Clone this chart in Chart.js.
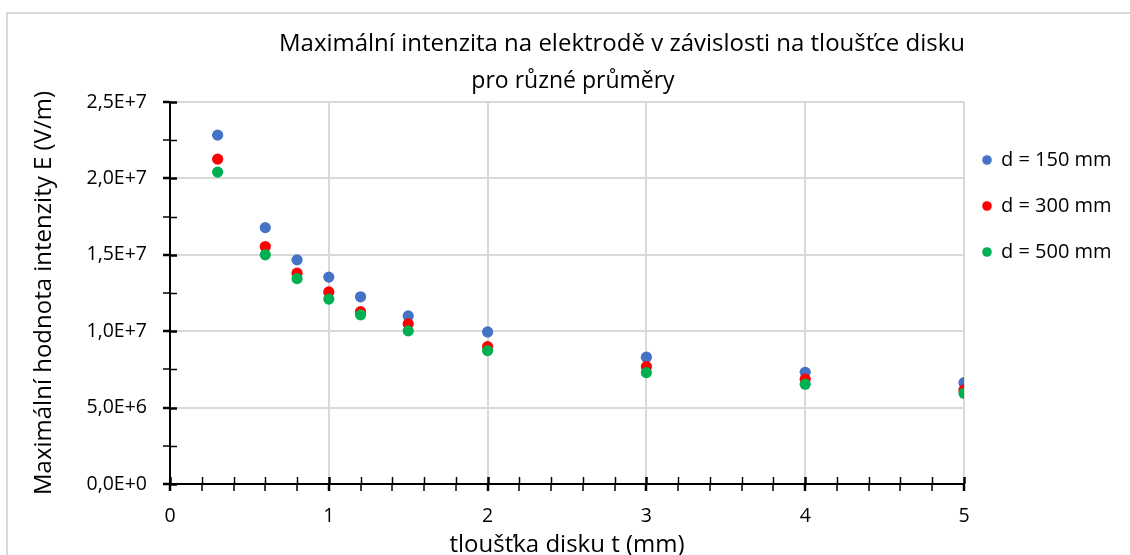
<!DOCTYPE html>
<html>
<head>
<meta charset="utf-8">
<script src="https://cdn.jsdelivr.net/npm/chart.js"></script>
<style>
  html, body { margin: 0; padding: 0; background: #fff; overflow: hidden; }
  #wrap { position: relative; width: 1130px; height: 555px; }
  #frame { position: absolute; left: 6px; top: 12px; width: 1140px; height: 560px;
           border: 2px solid #d9d9d9; pointer-events: none; }
</style>
</head>
<body>
<div id="wrap">
  <canvas id="chart"></canvas>
  <div id="frame"></div>
</div>
<script>
// tloušťka disku t (mm)
const thickness = [0.3, 0.6, 0.8, 1.0, 1.2, 1.5, 2, 3, 4, 5];

// maximální intenzita E (V/m) pro jednotlivé průměry
const e150 = [2.283e7, 1.678e7, 1.467e7, 1.354e7, 1.225e7, 1.100e7, 9.95e6, 8.30e6, 7.31e6, 6.63e6];
const e300 = [2.126e7, 1.554e7, 1.380e7, 1.257e7, 1.128e7, 1.048e7, 8.99e6, 7.68e6, 6.86e6, 6.16e6];
const e500 = [2.041e7, 1.500e7, 1.344e7, 1.210e7, 1.107e7, 1.002e7, 8.73e6, 7.29e6, 6.53e6, 5.94e6];

const seriesLabels = ['d = 150 mm', 'd = 300 mm', 'd = 500 mm'];
const seriesColors = ['#4472c4', '#ff0000', '#00b050'];

const xTickValues = [0, 1, 2, 3, 4, 5];
const xTickLabels = ['0', '1', '2', '3', '4', '5'];
const yTickValues = [0, 5e6, 1e7, 1.5e7, 2e7, 2.5e7];
const yTickLabels = ['0,0E+0', '5,0E+6', '1,0E+7', '1,5E+7', '2,0E+7', '2,5E+7'];

const FONT = '"Open Sans", "Noto Sans", sans-serif';
const GRID = '#d9d9d9';

const toPoints = arr => arr.map((v, i) => ({ x: thickness[i], y: v }));
const isMajorX = v => xTickValues.includes(v);
const isMajorY = v => yTickValues.includes(v);

// ticks in Excel style cross the axis, Chart.js only draws the outer half
const crossTicks = {
    id: 'crossTicks',
    beforeDatasetsDraw(chart) {
        const { ctx, chartArea, scales: { x, y } } = chart;
        ctx.save();
        ctx.strokeStyle = '#000';
        x.ticks.forEach(t => {
            const px = Math.round(x.getPixelForValue(t.value)) + 0.5;
            ctx.lineWidth = isMajorX(t.value) ? 2.5 : 1.5;
            ctx.beginPath();
            ctx.moveTo(px, chartArea.bottom);
            ctx.lineTo(px, chartArea.bottom - 7);
            ctx.stroke();
        });
        y.ticks.forEach(t => {
            const py = Math.round(y.getPixelForValue(t.value)) + 0.5;
            ctx.lineWidth = isMajorY(t.value) ? 2.5 : 1.5;
            ctx.beginPath();
            ctx.moveTo(chartArea.left, py);
            ctx.lineTo(chartArea.left + 7, py);
            ctx.stroke();
        });
        ctx.restore();
    },
};

// title, subtitle and the legend sit where Excel put them
const titlesAndLegend = {
    id: 'titlesAndLegend',
    afterDraw(chart) {
        const { ctx } = chart;
        ctx.save();
        ctx.fillStyle = '#000';
        ctx.textAlign = 'center';
        ctx.textBaseline = 'middle';
        ctx.font = `24px ${FONT}`;
        ctx.fillText('Maximální intenzita na elektrodě v závislosti na tloušťce disku', 622, 44);
        ctx.font = `23px ${FONT}`;
        ctx.fillText('pro různé průměry', 573, 81);

        ctx.textAlign = 'left';
        ctx.font = `20px ${FONT}`;
        seriesLabels.forEach((label, i) => {
            const cy = 160 + i * 46;
            ctx.fillStyle = seriesColors[i];
            ctx.beginPath();
            ctx.arc(987, cy, 4.8, 0, Math.PI * 2);
            ctx.fill();
            ctx.fillStyle = '#000';
            ctx.fillText(label, 1001, cy);
        });
        ctx.restore();
    },
};

new Chart(document.getElementById('chart'), {
    type: 'scatter',
    data: {
        datasets: seriesLabels.map((label, i) => ({
            label,
            data: toPoints([e150, e300, e500][i]),
            backgroundColor: seriesColors[i],
            borderColor: seriesColors[i],
            borderWidth: 0,
            pointRadius: 5.6,
            pointHoverRadius: 5.6,
            order: 3 - i,
        })),
    },
    options: {
        responsive: true,
        maintainAspectRatio: false,
        animation: false,
        layout: { padding: { top: 102, right: 166, left: 0, bottom: 0 } },
        plugins: {
            legend: { display: false },
            tooltip: { enabled: false },
        },
        scales: {
            x: {
                type: 'linear',
                min: 0,
                max: 5,
                afterFit: s => { s.height = 71; },
                ticks: {
                    stepSize: 0.2,
                    autoSkip: false,
                    maxRotation: 0,
                    padding: 14,
                    color: '#000',
                    font: { family: FONT, size: 19.5 },
                    callback: v => {
                        const i = xTickValues.indexOf(v);
                        return i >= 0 ? xTickLabels[i] : '';
                    },
                },
                grid: {
                    color: c => isMajorX(c.tick.value) ? GRID : 'rgba(0,0,0,0)',
                    lineWidth: 2,
                    tickColor: '#000',
                    tickLength: 7,
                    tickWidth: c => isMajorX(c.tick.value) ? 2.5 : 1.5,
                },
                border: { color: '#000', width: 2 },
                title: {
                    display: true,
                    text: 'tloušťka disku t (mm)',
                    color: '#000',
                    font: { family: FONT, size: 24, lineHeight: 1 },
                    padding: { top: 0, bottom: -2 },
                },
            },
            y: {
                min: 0,
                max: 2.5e7,
                afterFit: s => { s.width = 170; },
                ticks: {
                    stepSize: 2.5e6,
                    autoSkip: false,
                    padding: 16,
                    color: '#000',
                    font: { family: FONT, size: 19.5 },
                    callback: v => {
                        const i = yTickValues.indexOf(v);
                        return i >= 0 ? yTickLabels[i] : '';
                    },
                },
                grid: {
                    color: c => isMajorY(c.tick.value) ? GRID : 'rgba(0,0,0,0)',
                    lineWidth: 2,
                    tickColor: '#000',
                    tickLength: 7,
                    tickWidth: c => isMajorY(c.tick.value) ? 2.5 : 1.5,
                },
                border: { color: '#000', width: 2 },
                title: {
                    display: true,
                    text: 'Maximální hodnota intenzity E (V/m)',
                    color: '#000',
                    font: { family: FONT, size: 24 },
                    padding: { top: 30, bottom: 0 },
                },
            },
        },
    },
    plugins: [crossTicks, titlesAndLegend],
});
</script>
</body>
</html>
